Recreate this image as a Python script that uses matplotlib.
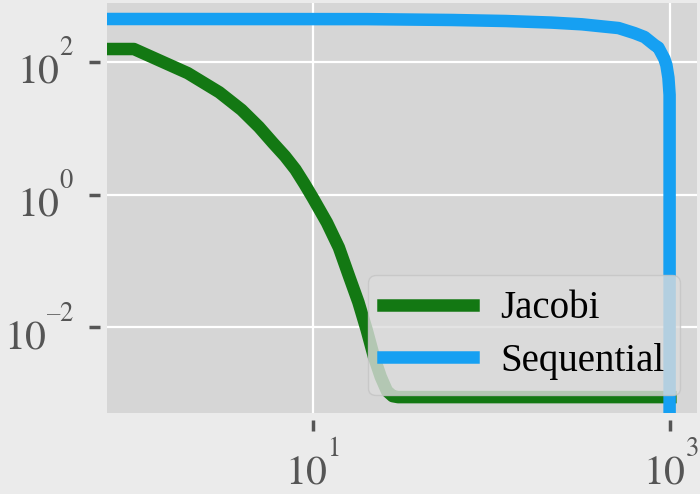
import numpy as np
import matplotlib
matplotlib.use("Agg")
import matplotlib.pyplot as plt
import matplotlib._mathtext as mt
from matplotlib.ticker import FuncFormatter

# iterations (0 is clipped on the log axis)
jacobi_x = [0, 1, 2, 3, 4, 5, 6, 7, 8, 9, 10, 12, 14, 16, 18, 20, 22, 24, 26, 28, 30, 100, 1000]
jacobi_y = [157, 157, 68, 35, 19, 10.5, 6.0, 3.8, 2.4, 1.45, 0.9, 0.38, 0.16, 0.058,
            0.024, 0.0093, 0.0036, 0.0018, 0.0011, 0.00092, 0.00089, 0.00089, 0.00089]

seq_x = [0, 1, 20, 60, 120, 216, 320, 412, 513, 629, 717, 816, 857, 925, 950, 975, 990, 1000]
seq_y = [445, 445, 443, 430, 415, 393, 370, 345, 325, 273, 238, 180, 165, 112, 90, 58, 32, 0]

labels = ["Jacobi", "Sequential"]
colors = ["#137813", "#16a0f2"]

plt.rcParams['font.family'] = ['Liberation Serif', 'DejaVu Serif']
plt.rcParams['mathtext.fontset'] = 'stix'
# LaTeX-like exponents: smaller and raised higher than mathtext's default
for c in [mt.FontConstantsBase] + mt.FontConstantsBase.__subclasses__():
    c.sup1 = 1.5
mt.SHRINK_FACTOR = 0.64

fig = plt.figure(figsize=(7, 4.94), dpi=100, facecolor="#ebebeb")
ax = fig.add_axes([0.153, 0.164, 0.843, 0.830])
ax.set_facecolor("#d6d6d6")

ax.plot(jacobi_x, jacobi_y, color=colors[0], lw=9, label=labels[0])
ax.plot(seq_x, seq_y, color=colors[1], lw=9, label=labels[1])

ax.set_xscale('log')
ax.set_yscale('log')
ax.set_xlim(10 ** -0.15, 10 ** 3.15)
ax.set_ylim(10 ** -3.29, 10 ** 2.89)
ax.set_xticks([10, 1000])
ax.set_yticks([1e-2, 1, 1e2])
ax.minorticks_off()

def pow_label(v, pos):
    e = int(round(np.log10(v)))
    return r'$10^{%s%d}$' % ('\u2013' if e < 0 else '', abs(e))

ax.xaxis.set_major_formatter(FuncFormatter(pow_label))
ax.yaxis.set_major_formatter(FuncFormatter(pow_label))

ax.grid(True, color="white", lw=1.6)
ax.set_axisbelow(True)
for s in ax.spines.values():
    s.set_visible(False)
    s.set_position(('outward', 5))

ax.tick_params(axis='both', direction='out', length=8, width=2.5, color="#555555",
               labelcolor="#555555", labelsize=30)
ax.tick_params(axis='x', pad=7)
ax.tick_params(axis='y', pad=11)

leg = ax.legend(loc='lower right', fontsize=28, handlelength=2.3, handletextpad=0.7,
                labelspacing=0.4, borderaxespad=0.45, fancybox=True, framealpha=0.8)
leg.get_frame().set_facecolor("#dcdcdc")
leg.get_frame().set_edgecolor("#c4c4c4")
for t in leg.get_texts():
    t.set_color("black")

fig.savefig("out.png", dpi=100, facecolor=fig.get_facecolor())
